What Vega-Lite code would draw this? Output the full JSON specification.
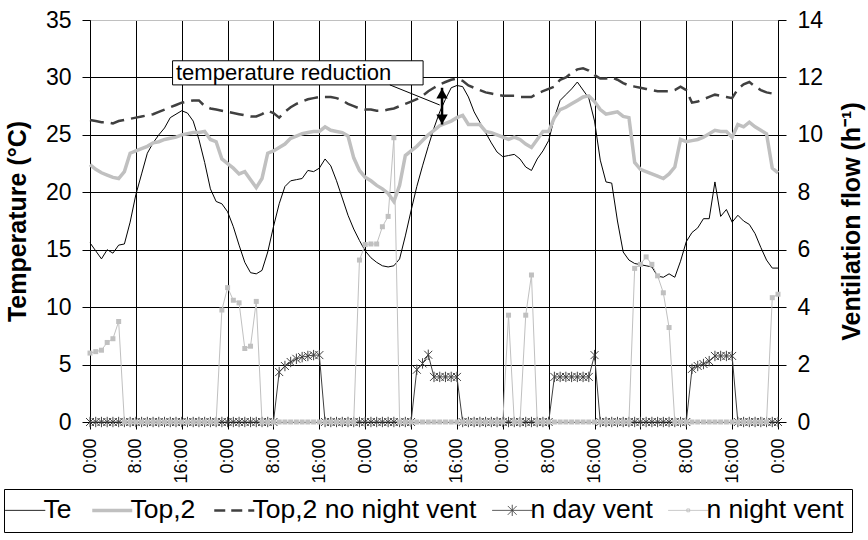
{
  "$schema": "https://vega.github.io/schema/vega-lite/v6.json",
  "width": 688,
  "height": 402,
  "autosize": "none",
  "padding": {"left": 90, "top": 20, "right": 90, "bottom": 118},
  "background": "white",
  "config": {
    "view": {"stroke": "#c0c0c0", "strokeWidth": 1},
    "font": "Liberation Sans",
    "axis": {
      "labelFont": "Liberation Sans", "labelFontSize": 18, "labelColor": "black",
      "titleFont": "Liberation Sans", "titleFontSize": 25, "titleFontWeight": "bold", "titleColor": "black",
      "domainColor": "black", "tickColor": "black", "gridColor": "black", "gridOpacity": 1,
      "domainWidth": 1, "tickWidth": 1, "gridWidth": 1
    }
  },
  "data": {"values": [
    {"h":0,"Te":15.6,"Top,2":22.4,"Top,2 no night vent":26.3,"n day vent":0,"n night vent":2.4},
    {"h":1,"Te":14.9,"Top,2":22.0,"Top,2 no night vent":26.2,"n day vent":0,"n night vent":2.45},
    {"h":2,"Te":14.2,"Top,2":21.7,"Top,2 no night vent":26.1,"n day vent":0,"n night vent":2.5},
    {"h":3,"Te":15.0,"Top,2":21.5,"Top,2 no night vent":26.1,"n day vent":0,"n night vent":2.77},
    {"h":4,"Te":14.7,"Top,2":21.3,"Top,2 no night vent":26.0,"n day vent":0,"n night vent":2.9},
    {"h":5,"Te":15.4,"Top,2":21.2,"Top,2 no night vent":26.2,"n day vent":0,"n night vent":3.5},
    {"h":6,"Te":15.5,"Top,2":21.8,"Top,2 no night vent":26.3,"n day vent":0,"n night vent":0},
    {"h":7,"Te":17.4,"Top,2":23.4,"Top,2 no night vent":26.4,"n day vent":0,"n night vent":0},
    {"h":8,"Te":19.8,"Top,2":23.6,"Top,2 no night vent":26.5,"n day vent":0,"n night vent":0},
    {"h":9,"Te":21.6,"Top,2":23.8,"Top,2 no night vent":26.6,"n day vent":0,"n night vent":0},
    {"h":10,"Te":23.4,"Top,2":24.0,"Top,2 no night vent":26.7,"n day vent":0,"n night vent":0},
    {"h":11,"Te":24.3,"Top,2":24.3,"Top,2 no night vent":26.8,"n day vent":0,"n night vent":0},
    {"h":12,"Te":25.0,"Top,2":24.4,"Top,2 no night vent":27.0,"n day vent":0,"n night vent":0},
    {"h":13,"Te":25.6,"Top,2":24.6,"Top,2 no night vent":27.2,"n day vent":0,"n night vent":0},
    {"h":14,"Te":26.5,"Top,2":24.7,"Top,2 no night vent":27.4,"n day vent":0,"n night vent":0},
    {"h":15,"Te":26.8,"Top,2":24.8,"Top,2 no night vent":27.6,"n day vent":0,"n night vent":0},
    {"h":16,"Te":27.1,"Top,2":25.0,"Top,2 no night vent":27.8,"n day vent":0,"n night vent":0},
    {"h":17,"Te":26.9,"Top,2":25.1,"Top,2 no night vent":27.9,"n day vent":0,"n night vent":0},
    {"h":18,"Te":26.2,"Top,2":25.2,"Top,2 no night vent":28.0,"n day vent":0,"n night vent":0},
    {"h":19,"Te":24.6,"Top,2":25.2,"Top,2 no night vent":28.0,"n day vent":0,"n night vent":0},
    {"h":20,"Te":22.6,"Top,2":25.3,"Top,2 no night vent":27.5,"n day vent":0,"n night vent":0},
    {"h":21,"Te":20.3,"Top,2":24.6,"Top,2 no night vent":27.3,"n day vent":0,"n night vent":0},
    {"h":22,"Te":19.2,"Top,2":24.4,"Top,2 no night vent":27.2,"n day vent":0,"n night vent":0},
    {"h":23,"Te":19.0,"Top,2":22.9,"Top,2 no night vent":27.1,"n day vent":0,"n night vent":3.9},
    {"h":24,"Te":18.3,"Top,2":22.5,"Top,2 no night vent":27.0,"n day vent":0,"n night vent":4.68},
    {"h":25,"Te":17.0,"Top,2":22.1,"Top,2 no night vent":26.9,"n day vent":0,"n night vent":4.24},
    {"h":26,"Te":15.4,"Top,2":21.6,"Top,2 no night vent":26.8,"n day vent":0,"n night vent":4.15},
    {"h":27,"Te":13.9,"Top,2":21.8,"Top,2 no night vent":26.7,"n day vent":0,"n night vent":2.56},
    {"h":28,"Te":13.0,"Top,2":21.1,"Top,2 no night vent":26.6,"n day vent":0,"n night vent":2.64},
    {"h":29,"Te":12.9,"Top,2":20.4,"Top,2 no night vent":26.6,"n day vent":0,"n night vent":4.2},
    {"h":30,"Te":13.2,"Top,2":21.2,"Top,2 no night vent":26.8,"n day vent":0,"n night vent":0},
    {"h":31,"Te":14.8,"Top,2":23.4,"Top,2 no night vent":27.1,"n day vent":0,"n night vent":0},
    {"h":32,"Te":17.0,"Top,2":23.6,"Top,2 no night vent":26.9,"n day vent":0,"n night vent":0},
    {"h":33,"Te":19.0,"Top,2":23.9,"Top,2 no night vent":26.5,"n day vent":1.74,"n night vent":0},
    {"h":34,"Te":20.5,"Top,2":24.2,"Top,2 no night vent":27.0,"n day vent":1.95,"n night vent":0},
    {"h":35,"Te":21.0,"Top,2":24.7,"Top,2 no night vent":27.4,"n day vent":2.09,"n night vent":0},
    {"h":36,"Te":21.1,"Top,2":24.9,"Top,2 no night vent":27.7,"n day vent":2.2,"n night vent":0},
    {"h":37,"Te":21.2,"Top,2":25.1,"Top,2 no night vent":27.9,"n day vent":2.26,"n night vent":0},
    {"h":38,"Te":21.9,"Top,2":25.2,"Top,2 no night vent":28.1,"n day vent":2.3,"n night vent":0},
    {"h":39,"Te":21.8,"Top,2":25.3,"Top,2 no night vent":28.2,"n day vent":2.33,"n night vent":0},
    {"h":40,"Te":22.1,"Top,2":25.3,"Top,2 no night vent":28.3,"n day vent":2.33,"n night vent":0},
    {"h":41,"Te":22.9,"Top,2":25.7,"Top,2 no night vent":28.3,"n day vent":0,"n night vent":0},
    {"h":42,"Te":22.3,"Top,2":25.4,"Top,2 no night vent":28.3,"n day vent":0,"n night vent":0},
    {"h":43,"Te":21.0,"Top,2":25.3,"Top,2 no night vent":28.2,"n day vent":0,"n night vent":0},
    {"h":44,"Te":19.5,"Top,2":25.2,"Top,2 no night vent":28.0,"n day vent":0,"n night vent":0},
    {"h":45,"Te":18.0,"Top,2":24.9,"Top,2 no night vent":27.7,"n day vent":0,"n night vent":0},
    {"h":46,"Te":16.8,"Top,2":23.0,"Top,2 no night vent":27.5,"n day vent":0,"n night vent":0},
    {"h":47,"Te":15.8,"Top,2":21.9,"Top,2 no night vent":27.3,"n day vent":0,"n night vent":5.64},
    {"h":48,"Te":14.9,"Top,2":21.3,"Top,2 no night vent":27.2,"n day vent":0,"n night vent":6.18},
    {"h":49,"Te":14.3,"Top,2":21.0,"Top,2 no night vent":27.2,"n day vent":0,"n night vent":6.2},
    {"h":50,"Te":13.9,"Top,2":20.6,"Top,2 no night vent":27.1,"n day vent":0,"n night vent":6.2},
    {"h":51,"Te":13.6,"Top,2":20.3,"Top,2 no night vent":27.1,"n day vent":0,"n night vent":6.8},
    {"h":52,"Te":13.5,"Top,2":19.9,"Top,2 no night vent":27.2,"n day vent":0,"n night vent":7.16},
    {"h":53,"Te":13.6,"Top,2":19.2,"Top,2 no night vent":27.3,"n day vent":0,"n night vent":9.9},
    {"h":54,"Te":14.2,"Top,2":20.6,"Top,2 no night vent":27.5,"n day vent":0,"n night vent":0},
    {"h":55,"Te":16.2,"Top,2":23.2,"Top,2 no night vent":27.7,"n day vent":0,"n night vent":0},
    {"h":56,"Te":18.4,"Top,2":23.6,"Top,2 no night vent":27.9,"n day vent":0,"n night vent":0},
    {"h":57,"Te":20.5,"Top,2":24.0,"Top,2 no night vent":28.1,"n day vent":1.82,"n night vent":0},
    {"h":58,"Te":22.3,"Top,2":24.5,"Top,2 no night vent":28.4,"n day vent":2.04,"n night vent":0},
    {"h":59,"Te":24.0,"Top,2":25.0,"Top,2 no night vent":28.8,"n day vent":2.34,"n night vent":0},
    {"h":60,"Te":25.6,"Top,2":25.4,"Top,2 no night vent":29.1,"n day vent":1.57,"n night vent":0},
    {"h":61,"Te":27.0,"Top,2":25.8,"Top,2 no night vent":29.4,"n day vent":1.57,"n night vent":0},
    {"h":62,"Te":28.1,"Top,2":26.0,"Top,2 no night vent":29.6,"n day vent":1.57,"n night vent":0},
    {"h":63,"Te":29.1,"Top,2":26.2,"Top,2 no night vent":29.8,"n day vent":1.57,"n night vent":0},
    {"h":64,"Te":29.3,"Top,2":26.5,"Top,2 no night vent":29.9,"n day vent":1.57,"n night vent":0},
    {"h":65,"Te":29.2,"Top,2":26.7,"Top,2 no night vent":29.7,"n day vent":0,"n night vent":0},
    {"h":66,"Te":28.3,"Top,2":25.9,"Top,2 no night vent":29.3,"n day vent":0,"n night vent":0},
    {"h":67,"Te":27.0,"Top,2":25.9,"Top,2 no night vent":29.1,"n day vent":0,"n night vent":0},
    {"h":68,"Te":26.1,"Top,2":25.9,"Top,2 no night vent":28.9,"n day vent":0,"n night vent":0},
    {"h":69,"Te":25.2,"Top,2":25.3,"Top,2 no night vent":28.7,"n day vent":0,"n night vent":0},
    {"h":70,"Te":24.3,"Top,2":25.2,"Top,2 no night vent":28.6,"n day vent":0,"n night vent":0},
    {"h":71,"Te":23.5,"Top,2":25.0,"Top,2 no night vent":28.5,"n day vent":0,"n night vent":0},
    {"h":72,"Te":23.1,"Top,2":24.8,"Top,2 no night vent":28.4,"n day vent":0,"n night vent":0},
    {"h":73,"Te":23.2,"Top,2":24.6,"Top,2 no night vent":28.4,"n day vent":0,"n night vent":3.72},
    {"h":74,"Te":23.3,"Top,2":24.8,"Top,2 no night vent":28.4,"n day vent":0,"n night vent":0},
    {"h":75,"Te":22.9,"Top,2":24.6,"Top,2 no night vent":28.3,"n day vent":0,"n night vent":0},
    {"h":76,"Te":22.2,"Top,2":24.2,"Top,2 no night vent":28.3,"n day vent":0,"n night vent":3.72},
    {"h":77,"Te":21.9,"Top,2":23.9,"Top,2 no night vent":28.3,"n day vent":0,"n night vent":5.12},
    {"h":78,"Te":22.9,"Top,2":24.6,"Top,2 no night vent":28.6,"n day vent":0,"n night vent":0},
    {"h":79,"Te":23.6,"Top,2":25.3,"Top,2 no night vent":28.8,"n day vent":0,"n night vent":0},
    {"h":80,"Te":24.5,"Top,2":25.3,"Top,2 no night vent":29.0,"n day vent":0,"n night vent":0},
    {"h":81,"Te":26.5,"Top,2":26.5,"Top,2 no night vent":29.2,"n day vent":1.57,"n night vent":0},
    {"h":82,"Te":28.0,"Top,2":27.2,"Top,2 no night vent":29.8,"n day vent":1.57,"n night vent":0},
    {"h":83,"Te":28.5,"Top,2":27.4,"Top,2 no night vent":30.0,"n day vent":1.57,"n night vent":0},
    {"h":84,"Te":29.0,"Top,2":27.7,"Top,2 no night vent":30.4,"n day vent":1.57,"n night vent":0},
    {"h":85,"Te":29.6,"Top,2":28.0,"Top,2 no night vent":30.7,"n day vent":1.57,"n night vent":0},
    {"h":86,"Te":28.9,"Top,2":28.3,"Top,2 no night vent":30.8,"n day vent":1.57,"n night vent":0},
    {"h":87,"Te":28.2,"Top,2":28.4,"Top,2 no night vent":30.6,"n day vent":1.57,"n night vent":0},
    {"h":88,"Te":26.2,"Top,2":27.9,"Top,2 no night vent":30.2,"n day vent":2.33,"n night vent":0},
    {"h":89,"Te":22.8,"Top,2":27.2,"Top,2 no night vent":29.9,"n day vent":0,"n night vent":0},
    {"h":90,"Te":20.9,"Top,2":26.8,"Top,2 no night vent":29.9,"n day vent":0,"n night vent":0},
    {"h":91,"Te":20.8,"Top,2":26.9,"Top,2 no night vent":30.0,"n day vent":0,"n night vent":0},
    {"h":92,"Te":17.5,"Top,2":27.0,"Top,2 no night vent":29.8,"n day vent":0,"n night vent":0},
    {"h":93,"Te":14.8,"Top,2":26.6,"Top,2 no night vent":29.5,"n day vent":0,"n night vent":0},
    {"h":94,"Te":14.1,"Top,2":26.5,"Top,2 no night vent":29.3,"n day vent":0,"n night vent":0},
    {"h":95,"Te":13.8,"Top,2":22.6,"Top,2 no night vent":29.2,"n day vent":0,"n night vent":5.35},
    {"h":96,"Te":13.7,"Top,2":22.0,"Top,2 no night vent":29.1,"n day vent":0,"n night vent":5.49},
    {"h":97,"Te":13.6,"Top,2":21.8,"Top,2 no night vent":29.0,"n day vent":0,"n night vent":5.75},
    {"h":98,"Te":13.5,"Top,2":21.6,"Top,2 no night vent":28.9,"n day vent":0,"n night vent":5.49},
    {"h":99,"Te":12.7,"Top,2":21.4,"Top,2 no night vent":28.8,"n day vent":0,"n night vent":5.09},
    {"h":100,"Te":12.6,"Top,2":21.2,"Top,2 no night vent":28.8,"n day vent":0,"n night vent":4.5},
    {"h":101,"Te":12.9,"Top,2":21.6,"Top,2 no night vent":28.8,"n day vent":0,"n night vent":3.29},
    {"h":102,"Te":12.6,"Top,2":22.2,"Top,2 no night vent":28.9,"n day vent":0,"n night vent":0},
    {"h":103,"Te":14.0,"Top,2":24.6,"Top,2 no night vent":29.2,"n day vent":0,"n night vent":0},
    {"h":104,"Te":15.7,"Top,2":24.4,"Top,2 no night vent":28.9,"n day vent":0,"n night vent":0},
    {"h":105,"Te":16.5,"Top,2":24.5,"Top,2 no night vent":27.8,"n day vent":1.85,"n night vent":0},
    {"h":106,"Te":16.9,"Top,2":24.6,"Top,2 no night vent":27.9,"n day vent":1.95,"n night vent":0},
    {"h":107,"Te":17.7,"Top,2":24.8,"Top,2 no night vent":28.1,"n day vent":2.02,"n night vent":0},
    {"h":108,"Te":17.7,"Top,2":25.1,"Top,2 no night vent":28.3,"n day vent":2.12,"n night vent":0},
    {"h":109,"Te":20.9,"Top,2":25.4,"Top,2 no night vent":28.5,"n day vent":2.3,"n night vent":0},
    {"h":110,"Te":17.9,"Top,2":25.3,"Top,2 no night vent":28.4,"n day vent":2.3,"n night vent":0},
    {"h":111,"Te":18.5,"Top,2":25.3,"Top,2 no night vent":28.3,"n day vent":2.3,"n night vent":0},
    {"h":112,"Te":17.4,"Top,2":24.8,"Top,2 no night vent":28.2,"n day vent":2.3,"n night vent":0},
    {"h":113,"Te":18.0,"Top,2":25.9,"Top,2 no night vent":29.0,"n day vent":0,"n night vent":0},
    {"h":114,"Te":17.5,"Top,2":25.7,"Top,2 no night vent":29.4,"n day vent":0,"n night vent":0},
    {"h":115,"Te":17.2,"Top,2":26.1,"Top,2 no night vent":29.6,"n day vent":0,"n night vent":0},
    {"h":116,"Te":16.4,"Top,2":25.7,"Top,2 no night vent":29.2,"n day vent":0,"n night vent":0},
    {"h":117,"Te":15.2,"Top,2":25.4,"Top,2 no night vent":28.9,"n day vent":0,"n night vent":0},
    {"h":118,"Te":14.1,"Top,2":25.1,"Top,2 no night vent":28.7,"n day vent":0,"n night vent":0},
    {"h":119,"Te":13.4,"Top,2":22.1,"Top,2 no night vent":28.6,"n day vent":0,"n night vent":4.33},
    {"h":120,"Te":13.4,"Top,2":21.7,"Top,2 no night vent":28.5,"n day vent":0,"n night vent":4.45}
  ]},
  "encoding": {
    "x": {"field": "h", "type": "quantitative", "scale": {"domain": [0, 120], "nice": false, "zero": false},
      "axis": {"values": [0,8,16,24,32,40,48,56,64,72,80,88,96,104,112,120], "labelExpr": "(datum.value % 24) + ':00'",
        "labelAngle": 270, "labelPadding": 9, "tickSize": 7, "grid": true, "title": null, "labelOverlap": false, "labelFlush": false}}
  },
  "resolve": {"scale": {"y": "independent"}},
  "layer": [
    {
      "transform": [{"fold": ["Te", "Top,2", "Top,2 no night vent"], "as": ["series", "T"]}],
      "encoding": {
        "y": {"field": "T", "type": "quantitative", "scale": {"domain": [0, 35], "nice": false},
          "axis": {"orient": "left", "values": [0,5,10,15,20,25,30,35], "tickSize": 8, "labelPadding": 11, "labelFontSize": 23, "grid": true,
            "gridColor": {"condition": {"test": "datum.value === 35", "value": "#c0c0c0"}, "value": "black"},
            "title": "Temperature (°C)", "titlePadding": 15}}
      },
      "layer": [
        {
          "transform": [{"filter": "datum.series === 'Te'"}],
          "mark": {"type": "line", "strokeWidth": 1},
          "encoding": {
            "color": {"field": "series", "type": "nominal",
              "scale": {"domain": ["Te", "Top,2", "Top,2 no night vent", "n day vent", "n night vent"],
                        "range": ["#000000", "#c0c0c0", "#404040", "#404040", "#c0c0c0"]},
              "legend": {"title": null, "orient": "none", "legendX": -86, "legendY": 469, "direction": "horizontal",
                "strokeColor": "black", "fillColor": "white", "padding": 8, "labelFontSize": 26.5, "labelFont": "Liberation Sans",
                "labelColor": "black", "labelLimit": 0, "symbolSize": 1600, "columnPadding": 13, "labelOffset": 5,
                "encode": {"symbols": {"update": {
                  "shape": {"signal": "datum.value === 'n day vent' ? 'M-1,0H1M-0.22,-0.22L0.22,0.22M-0.22,0.22L0.22,-0.22M0,-0.28V0.28' : (datum.value === 'n night vent' ? 'M-1,0H1M-0.07,-0.07H0.07V0.07H-0.07Z' : 'M-1,0H1')"},
                  "strokeDash": {"signal": "datum.value === 'Top,2 no night vent' ? [11,6] : [1,0]"},
                  "strokeWidth": {"signal": "datum.value === 'Top,2' ? 3.5 : (datum.value === 'Top,2 no night vent' ? 2.5 : 1)"}
                }}}}
            }
          }
        },
        {
          "transform": [{"filter": "datum.series === 'Top,2'"}],
          "mark": {"type": "line", "strokeWidth": 3.5},
          "encoding": {"color": {"field": "series", "type": "nominal"}}
        },
        {
          "transform": [{"filter": "datum.series === 'Top,2 no night vent'"}],
          "mark": {"type": "line", "strokeWidth": 2.5, "strokeDash": [14, 7]},
          "encoding": {"color": {"field": "series", "type": "nominal"}}
        },
        {
          "data": {"values": [{"h": 14.4, "hEnd": 58.1, "T": 29.35, "TEnd": 31.45}]},
          "mark": {"type": "rect", "fill": "white", "stroke": "black", "strokeWidth": 1},
          "encoding": {"x2": {"field": "hEnd"}, "y2": {"field": "TEnd"}}
        },
        {
          "data": {"values": [{"h": 15.0, "T": 30.4, "label": "temperature reduction"}]},
          "mark": {"type": "text", "align": "left", "baseline": "middle", "fontSize": 22, "font": "Liberation Sans", "color": "black"},
          "encoding": {"text": {"field": "label"}}
        },
        {
          "data": {"values": [{"h": 52.3, "T": 29.35, "hEnd": 61.0, "TEnd": 27.6}]},
          "mark": {"type": "rule", "color": "black", "strokeWidth": 1},
          "encoding": {"x2": {"field": "hEnd"}, "y2": {"field": "TEnd"}}
        },
        {
          "data": {"values": [{"h": 61.4, "T": 29.1, "TEnd": 25.9}]},
          "mark": {"type": "rule", "color": "black", "strokeWidth": 2.5},
          "encoding": {"y2": {"field": "TEnd"}}
        },
        {
          "data": {"values": [{"h": 61.4, "T": 28.6}]},
          "mark": {"type": "point", "shape": "triangle-up", "filled": true, "color": "black", "size": 130, "opacity": 1},
          "encoding": {}
        },
        {
          "data": {"values": [{"h": 61.4, "T": 26.35}]},
          "mark": {"type": "point", "shape": "triangle-down", "filled": true, "color": "black", "size": 130, "opacity": 1},
          "encoding": {}
        }
      ]
    },
    {
      "transform": [{"fold": ["n day vent", "n night vent"], "as": ["series", "v"]}],
      "encoding": {
        "y": {"field": "v", "type": "quantitative", "scale": {"domain": [0, 14], "nice": false},
          "axis": {"orient": "right", "values": [0,2,4,6,8,10,12,14], "tickSize": 8, "labelPadding": 11, "labelFontSize": 23, "grid": false,
            "title": "Ventilation flow (h⁻¹)", "titleAngle": 270, "titleBaseline": "top", "titlePadding": 17}}
      },
      "layer": [
        {
          "transform": [{"filter": "datum.series === 'n day vent'"}],
          "mark": {"type": "line", "strokeWidth": 1},
          "encoding": {"color": {"field": "series", "type": "nominal"}}
        },
        {
          "transform": [{"filter": "datum.series === 'n day vent'"}],
          "mark": {"type": "point", "shape": "M-1,-1L1,1M-1,1L1,-1M0,-1.3V1.3", "filled": false, "stroke": "#404040", "strokeWidth": 1, "size": 64, "opacity": 1},
          "encoding": {}
        },
        {
          "transform": [{"filter": "datum.series === 'n night vent'"}],
          "mark": {"type": "line", "strokeWidth": 1},
          "encoding": {"color": {"field": "series", "type": "nominal"}}
        },
        {
          "transform": [{"filter": "datum.series === 'n night vent'"}],
          "mark": {"type": "square", "filled": true, "color": "#c0c0c0", "size": 25, "opacity": 1},
          "encoding": {}
        }
      ]
    }
  ]
}
